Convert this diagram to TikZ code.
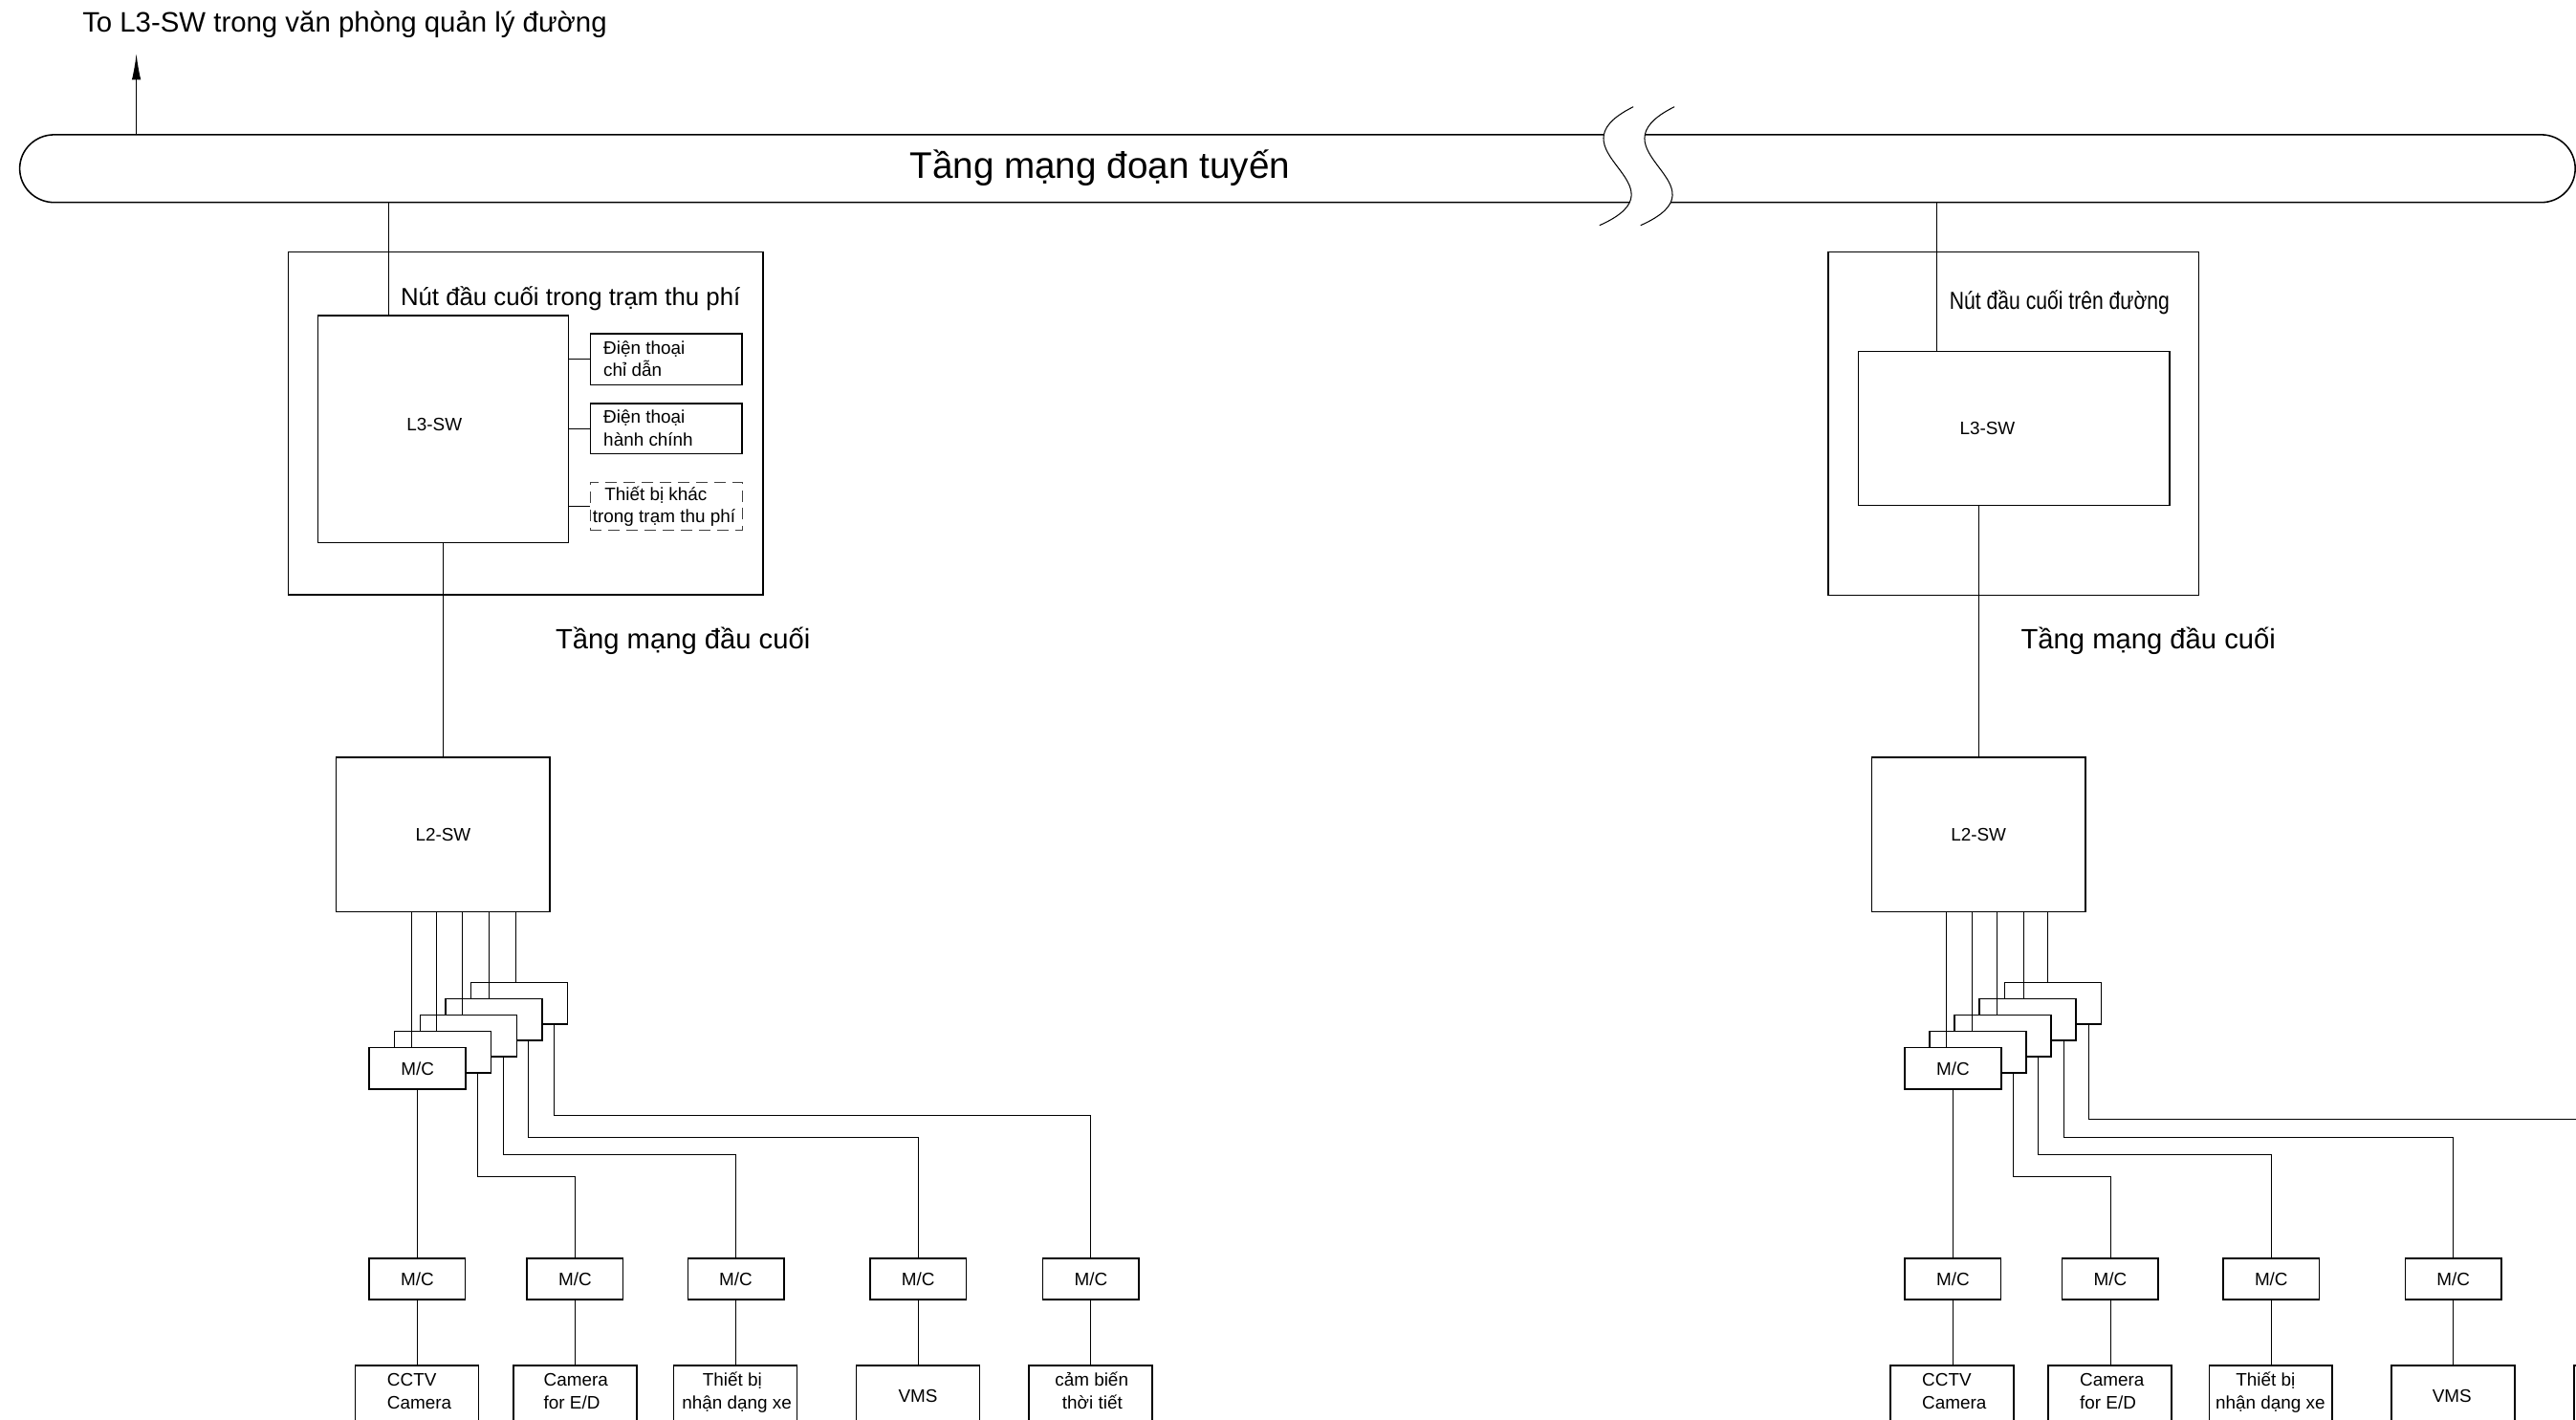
\documentclass[tikz,border=0pt]{standalone}
\usepackage{fontspec}
\setmainfont{Liberation Sans}
\newfontfamily\narrowfont[FakeStretch=0.82]{Liberation Sans}
\usetikzlibrary{arrows.meta}
\begin{document}
\begin{tikzpicture}[x=1pt,y=-1pt,
  box/.style={draw,line width=0.9pt,fill=white,rectangle,inner sep=0pt,font=\fontsize{11}{13.6}\selectfont},
  frame/.style={draw,line width=0.9pt,rectangle,inner sep=0pt},
  conn/.style={line width=0.5pt},
  lbl/.style={inner sep=0pt,font=\fontsize{11}{13.6}\selectfont},
  stk/.style={box,minimum width=58.8pt,minimum height=25.2pt},
  mc/.style={box,minimum width=58.5pt,minimum height=25.2pt},
  dev/.style={box,minimum width=75pt,minimum height=60pt},
  tel/.style={box,minimum width=92.3pt},
  big/.style={inner sep=0pt,anchor=base west,font=\fontsize{17}{20}\selectfont},
  stn/.style={inner sep=0pt,anchor=base west,font=\fontsize{15}{18}\selectfont},
]
\useasboundingbox (0,0) rectangle (1568,864);
\clip (0,0) rectangle (1568,864);

% ---------- bus (Tang mang doan tuyen) ----------
\draw[line width=0.9pt] (33,82) -- (1546.9,82) arc[start angle=-90,end angle=90,radius=20.6]
  -- (33,123.2) arc[start angle=90,end angle=270,x radius=21,y radius=20.6] -- cycle;
\fill[white] (994.2,65) .. controls (940,92) and (1030,112) .. (973.6,137.2)
  -- (998.6,137.2) .. controls (1055,112) and (965,92) .. (1019.2,65) -- cycle;
\draw[line width=0.6pt] (994.2,65) .. controls (940,92) and (1030,112) .. (973.6,137.2);
\draw[line width=0.6pt] (1019.2,65) .. controls (965,92) and (1055,112) .. (998.6,137.2);
\node[inner sep=0pt,anchor=base,font=\fontsize{22.5}{26}\selectfont] (busTitle) at (669.5,108.5) {Tầng mạng đoạn tuyến};

% uplink
\coordinate (upA) at (83,82);
\coordinate (upB) at (83,32.6);
\draw[line width=0.8pt,-{Latex[length=16pt,width=5.5pt]}] (upA) -- (upB);
\node[inner sep=0pt,anchor=base west,font=\fontsize{17.1}{20}\selectfont] (upTxt) at (50,19.5) {To L3-SW trong văn phòng quản lý đường};

% ---------- left station ----------
\node[frame,minimum width=289pt,minimum height=208.7pt] (outerL) at (320,257.6) {};
\node[stn] (outerLtxt) at (243.7,186) {Nút đầu cuối trong trạm thu phí};
\node[box,minimum width=152.4pt,minimum height=138.2pt] (l3L) at (269.8,261.1) {};
\node[lbl] (l3Ltxt) at (264.4,258.5) {L3-SW};
\node[tel,minimum height=30.9pt] (telA) at (405.5,218.7) {};
\node[lbl,anchor=base west] (telA1) at (367.2,215.4) {Điện thoại};
\node[lbl,anchor=base west] (telA2) at (367.2,229) {chỉ dẫn};
\node[tel,minimum height=30.5pt] (telB) at (405.5,261) {};
\node[lbl,anchor=base west] (telB1) at (367.2,257.7) {Điện thoại};
\node[lbl,anchor=base west] (telB2) at (367.2,271.3) {hành chính};
\node[tel,minimum height=29.6pt,line width=0.55pt,draw=black!75,dash pattern=on 7pt off 4pt] (othL) at (405.5,308.2) {};
\node[lbl,anchor=base west] (othL1) at (367.8,304.5) {Thiết bị khác};
\node[lbl,anchor=base west] (othL2) at (360.6,318) {trong trạm thu phí};

\coordinate (tapL) at (236.5,123.2);
\draw[conn] (tapL) -- (tapL |- l3L.north);
\draw[conn] (l3L.east |- telA.west) -- (telA.west);
\draw[conn] (l3L.east |- telB.west) -- (telB.west);
\draw[conn] (l3L.east |- othL.west) -- (othL.west);

\node[box,minimum width=130pt,minimum height=94pt] (l2L) at (269.7,508) {L2-SW};
\coordinate (dnL) at (269.6,0);
\draw[conn] (dnL |- l3L.south) -- (dnL |- l2L.north);
\node[big] (layL) at (338,395) {Tầng mạng đầu cuối};

\node[stk] (sL5) at (316.1,610.7) {};
\node[stk] (sL4) at (300.6,620.6) {};
\node[stk] (sL3) at (285.1,630.5) {};
\node[stk] (sL2) at (269.6,640.4) {};
\node[stk] (sL1) at (254.1,650.3) {M/C};
\foreach \n/\x in {1/250.3,2/265.8,3/281.3,4/297.4,5/313.7}{
  \coordinate (xL\n) at (\x,0);
  \draw[conn] (xL\n |- l2L.south) -- (xL\n |- sL\n.north);
}

\node[mc] (mcLA) at (254,778.4) {M/C};
\node[mc] (mcLB) at (350,778.4) {M/C};
\node[mc] (mcLC) at (447.9,778.4) {M/C};
\node[mc] (mcLD) at (558.8,778.4) {M/C};
\node[mc] (mcLE) at (664,778.4) {M/C};

\draw[conn] (sL1.south) -- (sL1.south |- mcLA.north);
\coordinate (rL2) at (290.6,716.1);
\coordinate (rL3) at (306.4,702.7);
\coordinate (rL4) at (321.4,692.3);
\coordinate (rL5) at (337.4,679);
\draw[conn] (rL2 |- sL2.south) -- (rL2) -| (mcLB.north);
\draw[conn] (rL3 |- sL3.south) -- (rL3) -| (mcLC.north);
\draw[conn] (rL4 |- sL4.south) -- (rL4) -| (mcLD.north);
\draw[conn] (rL5 |- sL5.south) -- (rL5) -| (mcLE.north);

\node[dev] (dvLA) at (253.7,861) {};
\node[dev] (dvLB) at (350,861) {};
\node[dev] (dvLC) at (447.5,861) {};
\node[dev] (dvLD) at (558.8,861) {};
\node[dev] (dvLE) at (663.7,861) {};
\foreach \c in {A,B,C,D,E}{
  \draw[conn] (mcL\c.south) -- (mcL\c.south |- dvL\c.north);
}
\node[lbl,anchor=base west] (tLA1) at (235.5,843.5) {CCTV};
\node[lbl,anchor=base west] (tLA2) at (235.5,857.5) {Camera};
\node[lbl,anchor=base west] (tLB1) at (330.8,843.5) {Camera};
\node[lbl,anchor=base west] (tLB2) at (330.8,857.5) {for E/D};
\node[lbl,anchor=base] (tLC1) at (445.7,843.5) {Thiết bị};
\node[lbl,anchor=base] (tLC2) at (448.5,857.5) {nhận dạng xe};
\node[lbl,anchor=base] (tLD1) at (558.8,853.5) {VMS};
\node[lbl,anchor=base] (tLE1) at (664.5,843.5) {cảm biến};
\node[lbl,anchor=base] (tLE2) at (664.9,857.5) {thời tiết};

% ---------- right station ----------
\node[frame,minimum width=225.6pt,minimum height=209pt] (outerR) at (1225.5,257.8) {};
\node[stn,font=\narrowfont\fontsize{15}{18}\selectfont] (outerRtxt) at (1186.5,188) {Nút đầu cuối trên đường};
\node[box,minimum width=189.6pt,minimum height=93.9pt] (l3R) at (1225.9,260.75) {};
\node[lbl] (l3Rtxt) at (1209.7,261) {L3-SW};
\coordinate (tapR) at (1179.1,123.2);
\draw[conn] (tapR) -- (tapR |- l3R.north);

\node[box,minimum width=130pt,minimum height=94pt] (l2R) at (1204.3,508) {L2-SW};
\coordinate (dnR) at (1204.5,0);
\draw[conn] (dnR |- l3R.south) -- (dnR |- l2R.north);
\node[big] (layR) at (1230,395) {Tầng mạng đầu cuối};

\node[stk] (sR5) at (1249.5,610.7) {};
\node[stk] (sR4) at (1234.3,620.6) {};
\node[stk] (sR3) at (1219.1,630.5) {};
\node[stk] (sR2) at (1203.9,640.4) {};
\node[stk] (sR1) at (1188.7,650.3) {M/C};
\foreach \n/\x in {1/1184.9,2/1200.2,3/1215.8,4/1231.8,5/1246.6}{
  \coordinate (xR\n) at (\x,0);
  \draw[conn] (xR\n |- l2R.south) -- (xR\n |- sR\n.north);
}

\node[mc] (mcRA) at (1188.7,778.4) {M/C};
\node[mc] (mcRB) at (1284.5,778.4) {M/C};
\node[mc] (mcRC) at (1382.5,778.4) {M/C};
\node[mc] (mcRD) at (1493.3,778.4) {M/C};

\draw[conn] (sR1.south) -- (sR1.south |- mcRA.north);
\coordinate (rR2) at (1225.6,716.1);
\coordinate (rR3) at (1240.8,702.7);
\coordinate (rR4) at (1256.3,692.3);
\coordinate (rR5) at (1271.4,681.4);
\coordinate (offR) at (1580,681.4);
\draw[conn] (rR2 |- sR2.south) -- (rR2) -| (mcRB.north);
\draw[conn] (rR3 |- sR3.south) -- (rR3) -| (mcRC.north);
\draw[conn] (rR4 |- sR4.south) -- (rR4) -| (mcRD.north);
\draw[conn] (rR5 |- sR5.south) -- (rR5) -- (offR);

\node[dev] (dvRA) at (1188.3,861) {};
\node[dev] (dvRB) at (1284.25,861) {};
\node[dev] (dvRC) at (1382.2,861) {};
\node[dev] (dvRD) at (1493.3,861) {};
\node[dev] (dvRE) at (1604.3,861) {};
\foreach \c in {A,B,C,D}{
  \draw[conn] (mcR\c.south) -- (mcR\c.south |- dvR\c.north);
}
\node[lbl,anchor=base west] (tRA1) at (1169.8,843.5) {CCTV};
\node[lbl,anchor=base west] (tRA2) at (1169.8,857.5) {Camera};
\node[lbl,anchor=base west] (tRB1) at (1265.8,843.5) {Camera};
\node[lbl,anchor=base west] (tRB2) at (1265.8,857.5) {for E/D};
\node[lbl,anchor=base] (tRC1) at (1379,843.5) {Thiết bị};
\node[lbl,anchor=base] (tRC2) at (1381.9,857.5) {nhận dạng xe};
\node[lbl,anchor=base] (tRD1) at (1492.5,853.5) {VMS};
\end{tikzpicture}
\end{document}
